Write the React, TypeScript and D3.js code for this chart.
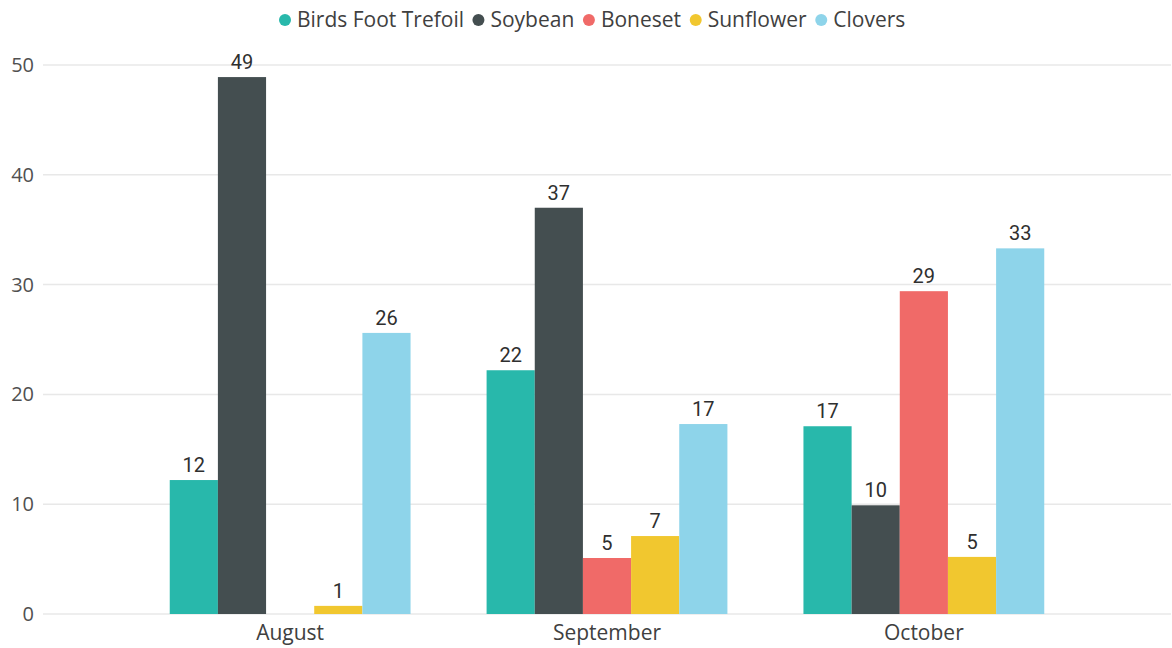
import React from "react";
import * as d3 from "d3";

const months = ["August", "September", "October"];
const seriesNames = ["Birds Foot Trefoil", "Soybean", "Boneset", "Sunflower", "Clovers"];
const seriesColors = ["#28B8AB", "#444E50", "#F06A68", "#F1C72F", "#8ED4EA"];

// values per series, one entry per month (null = no bar)
const birdsFootTrefoil = [12.2, 22.2, 17.1];
const soybean = [48.9, 37.0, 9.9];
const boneset = [null, 5.1, 29.4];
const sunflower = [0.74, 7.1, 5.2];
const clovers = [25.6, 17.3, 33.3];

const yTicks = [0, 10, 20, 30, 40, 50];

const W = 1172;
const H = 648;
const plot = { left: 43, right: 1171, top: 65, bottom: 614 };

const uiFont = "'Open Sans', 'Noto Sans', sans-serif";
const labelFont = "Roboto, 'Noto Sans', sans-serif";
const legendFontSize = 21;

function textWidth(s: string, font: string): number {
  if (typeof document === "undefined") return s.length * 10;
  const c = document.createElement("canvas");
  const ctx = c.getContext("2d");
  if (!ctx) return s.length * 10;
  ctx.font = font;
  return ctx.measureText(s).width;
}

export default function App() {
  const series = [birdsFootTrefoil, soybean, boneset, sunflower, clovers];

  const y = d3.scaleLinear().domain([0, 50]).range([plot.bottom, plot.top]);
  const x0 = d3
    .scaleBand<string>()
    .domain(months)
    .range([plot.left, plot.right])
    .paddingInner(0.24)
    .paddingOuter(0.4);
  const x1 = d3
    .scaleBand<string>()
    .domain(seriesNames)
    .range([0, x0.bandwidth()]);
  const fmt = d3.format(".0f");

  // legend layout: marker, gap, text, gap to next marker, spread from 285 to 905
  const legendItems = React.useMemo(() => {
    const font = `${legendFontSize}px 'Open Sans'`;
    const widths = seriesNames.map((n) => textWidth(n, font));
    const markerToText = 12;
    const textToMarker = 15;
    const legendLeft = 285;
    const legendRight = 905;
    const natural =
      widths.reduce((a, b) => a + b, 0) +
      seriesNames.length * markerToText +
      (seriesNames.length - 1) * textToMarker;
    const k = (legendRight - legendLeft) / natural;
    let cx = legendLeft;
    return seriesNames.map((name, i) => {
      const item = { name, color: seriesColors[i], x: cx };
      cx += (markerToText + widths[i] + textToMarker) * k;
      return item;
    });
  }, []);

  return (
    <svg
      width={W}
      height={H}
      style={{ position: "absolute", left: 0, top: 0, background: "#fff" }}
    >
      {/* legend */}
      <g>
        {legendItems.map((it) => (
          <g key={it.name} transform={`translate(${it.x},20)`}>
            <circle cx={0} cy={0} r={6} fill={it.color} />
            <text
              x={12}
              y={0}
              dy="0.35em"
              fontFamily={uiFont}
              fontSize={legendFontSize}
              fill="#404040"
            >
              {it.name}
            </text>
          </g>
        ))}
      </g>

      {/* gridlines and y axis labels */}
      <g>
        {yTicks.map((t) => (
          <g key={t}>
            <line
              x1={plot.left}
              x2={plot.right}
              y1={y(t)}
              y2={y(t)}
              stroke="#E8E8E8"
              strokeWidth={1.5}
            />
            <text
              x={34}
              y={y(t)}
              dy="0.35em"
              textAnchor="end"
              fontFamily={uiFont}
              fontSize={20}
              fill="#505050"
            >
              {t}
            </text>
          </g>
        ))}
      </g>

      {/* bars with value labels */}
      <g>
        {months.map((m, mi) => (
          <g key={m} transform={`translate(${x0(m)},0)`}>
            {series.map((vals, si) => {
              const v = vals[mi];
              if (v == null) return null;
              const bx = x1(seriesNames[si]) as number;
              const bw = x1.bandwidth();
              return (
                <g key={seriesNames[si]}>
                  <rect
                    x={bx}
                    y={y(v)}
                    width={bw}
                    height={y(0) - y(v)}
                    fill={seriesColors[si]}
                  />
                  <text
                    x={bx + bw / 2}
                    y={y(v) - 8}
                    textAnchor="middle"
                    fontFamily={labelFont}
                    fontSize={20}
                    fill="#2f2f2f"
                  >
                    {fmt(v)}
                  </text>
                </g>
              );
            })}
          </g>
        ))}
      </g>

      {/* category labels */}
      <g>
        {months.map((m) => (
          <text
            key={m}
            x={(x0(m) as number) + x0.bandwidth() / 2}
            y={633}
            dy="0.35em"
            textAnchor="middle"
            fontFamily={uiFont}
            fontSize={21}
            fill="#404040"
          >
            {m}
          </text>
        ))}
      </g>
    </svg>
  );
}
